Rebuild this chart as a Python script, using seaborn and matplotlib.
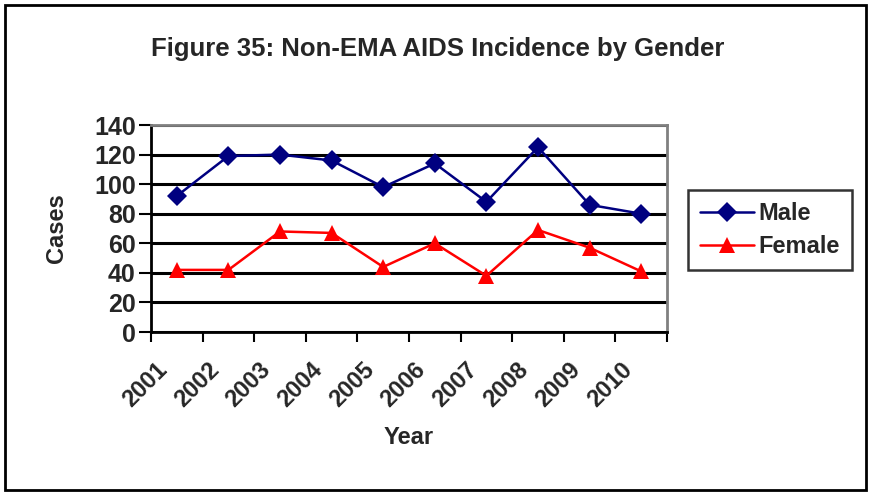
import numpy as np
import pandas as pd
import matplotlib
matplotlib.use("Agg")
import matplotlib.pyplot as plt
import matplotlib.transforms as mtransforms
import seaborn as sns
from matplotlib.patches import Rectangle

# data
years = ["2001", "2002", "2003", "2004", "2005", "2006", "2007", "2008", "2009", "2010"]
male = [92, 119, 120, 116, 98, 114, 88, 125, 86, 80]
female = [42, 42, 68, 67, 44, 60, 38, 69, 57, 41]

df = pd.DataFrame({
    "Year": years * 2,
    "Cases": male + female,
    "Gender": ["Male"] * len(years) + ["Female"] * len(years),
})

sns.set_style("white")
plt.rcParams["font.family"] = ["Liberation Sans", "DejaVu Sans"]
plt.rcParams["font.weight"] = "bold"

fig = plt.figure(figsize=(8.71, 4.95), dpi=100)
ax = fig.add_axes([151 / 871, 1 - 332 / 495, (667 - 151) / 871, (332 - 125) / 495])

sns.lineplot(
    data=df, x="Year", y="Cases", hue="Gender", style="Gender",
    palette={"Male": "#000080", "Female": "#FF0000"},
    markers={"Male": "D", "Female": "^"}, dashes=False,
    markersize=10, markeredgewidth=0, linewidth=1.8, ax=ax,
)
for line in ax.lines:
    if line.get_marker() == "^":
        line.set_markersize(12)

# y axis
ax.set_ylim(0, 140)
ax.set_yticks(np.arange(0, 141, 20))
ax.yaxis.grid(True, color="black", linewidth=2.2)
ax.set_axisbelow(True)

# x axis: ticks between categories, rotated labels at the centres
ax.set_xlim(-0.5, len(years) - 0.5)
ax.set_xticks(np.arange(-0.5, len(years), 1))
ax.set_xticklabels([])
ax.tick_params(axis="x", direction="out", length=7, width=1.5, color="black", bottom=True)
offset = mtransforms.ScaledTranslation(-21 / 100, -26 / 100, fig.dpi_scale_trans)
for i, yr in enumerate(years):
    ax.text(i, 0, yr, transform=ax.get_xaxis_transform() + offset,
            rotation=45, ha="right", va="top", rotation_mode="anchor",
            fontsize=17, fontweight="bold")

ax.tick_params(axis="y", direction="out", length=9, width=1.5, color="black", left=True,
               labelsize=18, pad=2)
for lab in ax.get_yticklabels():
    lab.set_fontweight("bold")

for side in ["left", "bottom"]:
    ax.spines[side].set_color("black")
    ax.spines[side].set_linewidth(2)
for side in ["top", "right"]:
    ax.spines[side].set_color("#808080")
    ax.spines[side].set_linewidth(2)

ax.set_xlabel("Year", fontsize=17, fontweight="bold")
ax.set_ylabel("Cases", fontsize=17, fontweight="bold")
ax.xaxis.set_label_coords(0.5, -(437 - 332) / 207, transform=ax.transAxes)
ax.xaxis.label.set_va("center")
ax.yaxis.set_label_coords(-(151 - 57) / 516, 0.5, transform=ax.transAxes)
ax.yaxis.label.set_va("center")

fig.text(438 / 871, 1 - 49 / 495, "Figure 35: Non-EMA AIDS Incidence by Gender",
         ha="center", va="center", fontsize=18.5, fontweight="bold")

handles, labels = ax.get_legend_handles_labels()
leg = ax.legend(handles, labels, loc="upper left", bbox_to_anchor=(688 / 871, 1 - 190 / 495),
                bbox_transform=fig.transFigure, frameon=True, fancybox=False, edgecolor="black",
                fontsize=17, handlelength=2.3, handletextpad=0.2, borderpad=0.5,
                labelspacing=0.45, borderaxespad=0)
leg.get_frame().set_linewidth(1.8)

# outer chart border
fig.patches.append(Rectangle((5 / 871, 5 / 495), 861 / 871, 485 / 495, transform=fig.transFigure,
                             fill=False, edgecolor="black", linewidth=2))

fig.savefig("out.png", dpi=100)
